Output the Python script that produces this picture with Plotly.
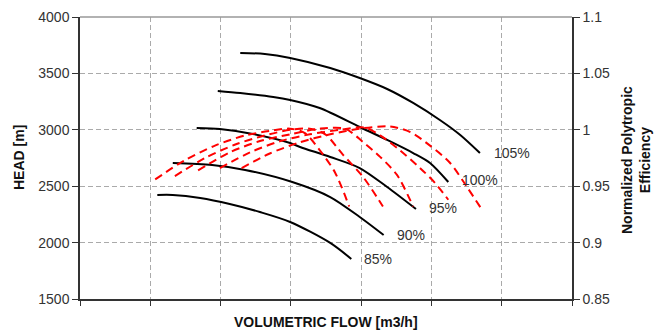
import plotly.graph_objects as go

# Head curves (black), flow in grid units
speeds = ["85%", "90%", "95%", "100%", "105%"]
head_flow = [
    [1.10, 1.32, 1.71, 2.13, 2.56, 2.99, 3.56, 3.86],
    [1.32, 1.88, 2.35, 3.02, 3.56, 3.98, 4.32],
    [1.66, 1.99, 2.46, 2.99, 3.13, 3.56, 3.98, 4.37, 4.78],
    [1.96, 2.28, 2.75, 2.99, 3.41, 3.98, 4.37, 4.74, 4.98, 5.24],
    [2.28, 2.63, 2.99, 3.56, 3.98, 4.37, 4.74, 5.12, 5.41, 5.69],
]
head_vals = [
    [2422, 2422, 2395, 2342, 2271, 2183, 1997, 1855],
    [2706, 2688, 2644, 2537, 2404, 2227, 2067],
    [3016, 3007, 2963, 2883, 2848, 2759, 2661, 2493, 2298],
    [3344, 3326, 3291, 3264, 3193, 3025, 2910, 2794, 2706, 2537],
    [3681, 3672, 3637, 3548, 3459, 3362, 3238, 3087, 2954, 2794],
]

# Efficiency curves (red dashed)
eff_flow = [
    [1.07, 1.49, 1.92, 2.35, 2.70, 2.99, 3.20, 3.41, 3.63, 3.83],
    [1.35, 1.78, 2.21, 2.63, 2.99, 3.27, 3.49, 3.74, 4.03, 4.31],
    [1.68, 2.13, 2.56, 2.99, 3.41, 3.77, 4.03, 4.27, 4.51, 4.74],
    [1.99, 2.42, 2.85, 3.27, 3.70, 4.05, 4.27, 4.55, 4.84, 5.05, 5.24],
    [2.30, 2.70, 3.13, 3.56, 3.98, 4.41, 4.70, 4.98, 5.26, 5.52, 5.71],
]
eff_vals = [
    [0.956, 0.973, 0.986, 0.995, 0.999, 1.001, 0.997, 0.982, 0.962, 0.932],
    [0.959, 0.975, 0.987, 0.995, 1.000, 1.001, 0.996, 0.978, 0.958, 0.932],
    [0.964, 0.980, 0.990, 0.996, 1.001, 1.001, 0.989, 0.976, 0.960, 0.932],
    [0.966, 0.980, 0.990, 0.996, 1.000, 1.002, 0.995, 0.982, 0.966, 0.953, 0.938],
    [0.966, 0.979, 0.989, 0.996, 1.001, 1.003, 0.998, 0.986, 0.971, 0.948, 0.930],
]

# Speed label anchor positions
label_x = [4.01, 4.48, 4.94, 5.41, 5.86]
label_head = [1855, 2067, 2307, 2555, 2794]

head_ticks = [1500, 2000, 2500, 3000, 3500, 4000]
head_ticktext = ["1500", "2000", "2500", "3000", "3500", "4000"]
eff_ticks = [0.85, 0.9, 0.95, 1.0, 1.05, 1.1]
eff_ticktext = ["0.85", "0.9", "0.95", "1", "1.05", "1.1"]
flow_ticks = [0, 1, 2, 3, 4, 5, 6, 7]

FONT = "Liberation Sans, Arial, sans-serif"

fig = go.Figure()

for xs, ys in zip(eff_flow, eff_vals):
    fig.add_trace(go.Scatter(
        x=xs, y=ys, yaxis="y2", mode="lines",
        line=dict(color="#ff0000", width=2, dash="8px,5px", shape="spline", smoothing=0.8),
        showlegend=False, hoverinfo="skip"))

for xs, ys in zip(head_flow, head_vals):
    fig.add_trace(go.Scatter(
        x=xs, y=ys, mode="lines",
        line=dict(color="#000000", width=2, shape="spline", smoothing=0.8),
        showlegend=False, hoverinfo="skip"))

for name, lx, ly in zip(speeds, label_x, label_head):
    fig.add_annotation(x=lx, y=ly, xref="x", yref="y", text=name, showarrow=False,
                       xanchor="left", yanchor="middle",
                       font=dict(family=FONT, size=14, color="#333333"))

fig.add_annotation(x=0.5, y=-(322 - 299) / 282, xref="paper", yref="paper",
                   text="<b>VOLUMETRIC FLOW [m3/h]</b>", showarrow=False,
                   xanchor="center", yanchor="middle",
                   font=dict(family=FONT, size=14, color="#111111"))
fig.add_annotation(x=(19 - 80) / 492, y=(299 - 158) / 282, xref="paper", yref="paper",
                   text="<b>HEAD [m]</b>", showarrow=False, textangle=-90,
                   xanchor="center", yanchor="middle",
                   font=dict(family=FONT, size=14, color="#111111"))
fig.add_annotation(x=(636 - 80) / 492, y=(299 - 160) / 282, xref="paper", yref="paper",
                   text="<b>Normalized Polytropic<br>Efficiency</b>", showarrow=False,
                   textangle=-90, align="center", xanchor="center", yanchor="middle",
                   font=dict(family=FONT, size=14, color="#111111"))

fig.add_shape(type="line", xref="paper", yref="paper", x0=0, x1=1, y0=1, y1=1,
              line=dict(color="#999999", width=1.5))

fig.update_layout(
    width=665, height=333,
    margin=dict(l=80, r=93, t=17, b=34, autoexpand=False),
    paper_bgcolor="white", plot_bgcolor="white",
    font=dict(family=FONT, size=14, color="#333333"),
    xaxis=dict(range=[0, 7], tickvals=flow_ticks, showticklabels=False,
               ticks="outside", ticklen=5, tickcolor="#333333",
               showgrid=True, gridcolor="#aaaaaa", griddash="5px,3px", gridwidth=1,
               showline=True, linecolor="#333333", linewidth=1.5, zeroline=False),
    yaxis=dict(range=[1500, 4000], tickvals=head_ticks, ticktext=head_ticktext,
               ticks="outside", ticklen=6, tickcolor="#333333",
               showgrid=True, gridcolor="#aaaaaa", griddash="5px,3px", gridwidth=1,
               showline=True, linecolor="#333333", linewidth=1.5, zeroline=False,
               tickfont=dict(family=FONT, size=14, color="#333333")),
    yaxis2=dict(range=[0.85, 1.1], tickvals=eff_ticks, ticktext=eff_ticktext,
                overlaying="y", side="right",
                ticks="outside", ticklen=6, tickcolor="#333333",
                showgrid=False, showline=True, linecolor="#333333", linewidth=1.5,
                zeroline=False, tickfont=dict(family=FONT, size=14, color="#333333")),
)

fig.write_html("out.html", config={"displayModeBar": False},
               post_script="document.body.style.margin='0';document.body.style.padding='0';")
